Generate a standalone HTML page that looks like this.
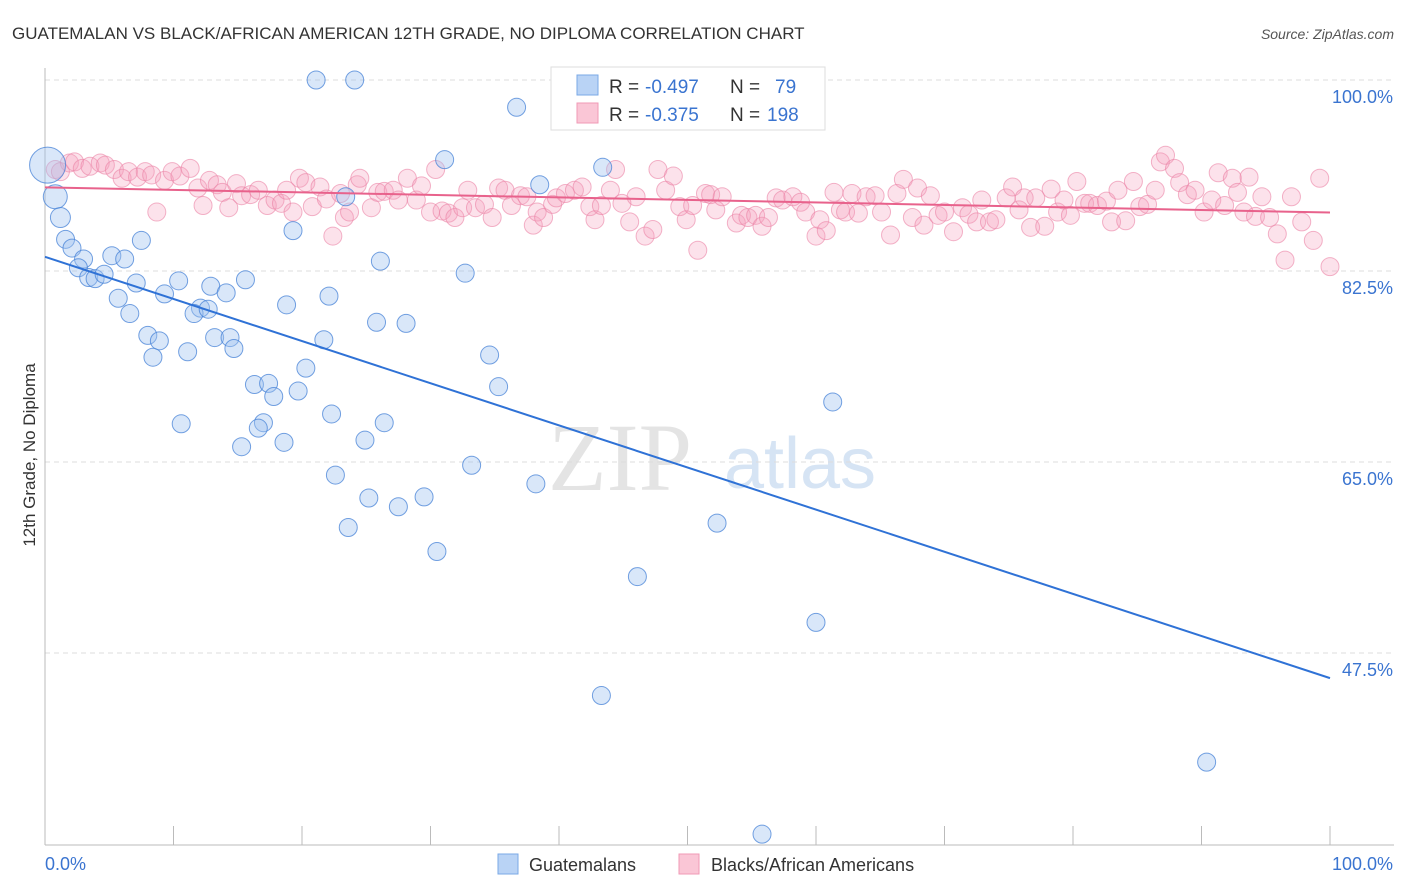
<!DOCTYPE html>
<html><head><meta charset="utf-8"><style>
body{margin:0;background:#fff;font-family:"Liberation Sans",sans-serif;}
svg{display:block}
</style></head><body>
<svg id="chart" width="1406" height="892" xmlns="http://www.w3.org/2000/svg">
<text x="12" y="39" font-size="17" fill="#333">GUATEMALAN VS BLACK/AFRICAN AMERICAN 12TH GRADE, NO DIPLOMA CORRELATION CHART</text>
<text x="1394" y="39" font-size="14" fill="#555" font-style="italic" text-anchor="end">Source: ZipAtlas.com</text>
<text x="620" y="490" font-size="96" fill="#e4e4e4" font-family="Liberation Serif,serif" text-anchor="middle">ZIP</text>
<text x="800" y="488" font-size="72" fill="#d6e4f4" text-anchor="middle">atlas</text>
<text transform="translate(35,455) rotate(-90)" font-size="17" fill="#333" text-anchor="middle">12th Grade, No Diploma</text>
<g id="grid"></g><g id="axes"></g><g id="pts"></g><g id="lines"></g>
<g>
<rect x="551" y="67" width="274" height="63" fill="#fff" stroke="#ddd"/>
<rect x="577" y="75" width="21" height="20" fill="#b9d3f5" stroke="#7aa8e6"/>
<rect x="577" y="103" width="21" height="20" fill="#fac6d6" stroke="#f09ab6"/>
<text x="609" y="93" font-size="19" fill="#333">R =</text>
<text x="645" y="93" font-size="19" fill="#3a74d0">-0.497</text>
<text x="730" y="93" font-size="19" fill="#333">N =</text>
<text x="775" y="93" font-size="19" fill="#3a74d0">79</text>
<text x="609" y="121" font-size="19" fill="#333">R =</text>
<text x="645" y="121" font-size="19" fill="#3a74d0">-0.375</text>
<text x="730" y="121" font-size="19" fill="#333">N =</text>
<text x="767" y="121" font-size="19" fill="#3a74d0">198</text>
</g>
<g>
<rect x="498" y="854" width="20" height="20" fill="#b9d3f5" stroke="#7aa8e6"/>
<text x="529" y="871" font-size="18" fill="#333">Guatemalans</text>
<rect x="679" y="854" width="20" height="20" fill="#fac6d6" stroke="#f09ab6"/>
<text x="711" y="871" font-size="18" fill="#333">Blacks/African Americans</text>
</g>
</svg>
<script>
const yTicks=[100,82.5,65,47.5];
const yTickLabels=["100.0%","82.5%","65.0%","47.5%"];
const xTicks=[0,10,20,30,40,50,60,70,80,90,100];
const blueX=[21.1,24.1,58.5,36.7,31.1,43.4,38.5,23.4,19.3,7.5,1.6,2.1,3.0,5.2,6.2,2.6,3.4,3.9,4.6,7.1,10.4,15.6,26.1,32.7,9.3,12.9,14.1,22.1,5.7,18.8,12.1,11.6,12.7,6.6,25.8,28.1,8.0,8.9,13.2,14.4,21.7,11.1,14.7,8.4,34.6,20.3,16.3,17.4,19.7,17.8,35.3,61.3,22.3,10.6,26.4,17.0,16.6,24.9,18.6,15.3,33.2,22.6,38.2,25.2,29.5,27.5,23.6,52.3,30.5,46.1,60.0,43.3,90.4,55.8,0.2,0.8,1.2];
const blueY=[100,100,99.8,97.5,92.7,92.0,90.4,89.3,86.2,85.3,85.4,84.6,83.6,83.9,83.6,82.8,81.9,81.8,82.2,81.4,81.6,81.7,83.4,82.3,80.4,81.1,80.5,80.2,80.0,79.4,79.1,78.6,79.0,78.6,77.8,77.7,76.6,76.1,76.4,76.4,76.2,75.1,75.4,74.6,74.8,73.6,72.1,72.2,71.5,71.0,71.9,70.5,69.4,68.5,68.6,68.6,68.1,67.0,66.8,66.4,64.7,63.8,63.0,61.7,61.8,60.9,59.0,59.4,56.8,54.5,50.3,43.6,37.5,30.9,92.2,89.3,87.4];
const blueSize=[9,9,9,9,9,9,9,9,9,9,9,9,9,9,9,9,9,9,9,9,9,9,9,9,9,9,9,9,9,9,9,9,9,9,9,9,9,9,9,9,9,9,9,9,9,9,9,9,9,9,9,9,9,9,9,9,9,9,9,9,9,9,9,9,9,9,9,9,9,9,9,9,9,9,18,12,10];
const pinkX=[0.8,1.2,1.9,2.3,2.9,3.5,4.3,4.7,5.4,6.0,6.5,7.2,7.8,8.3,8.7,9.3,9.9,10.5,11.3,11.9,12.3,12.8,13.4,13.8,14.3,14.9,15.3,16.0,16.6,17.3,17.9,18.4,18.8,19.3,19.8,20.3,20.8,21.4,21.9,22.4,23.0,23.3,23.7,24.3,24.5,25.4,25.9,26.4,27.1,27.5,28.2,28.9,29.3,30.0,30.4,30.9,31.4,31.9,32.5,32.9,33.5,34.2,34.8,35.3,35.8,36.3,37.0,37.5,38.0,38.3,38.8,39.5,39.8,40.5,41.2,41.8,42.4,42.8,43.3,44.0,44.4,44.9,45.5,46.0,46.7,47.3,47.7,48.3,48.9,49.4,49.9,50.4,50.8,51.4,51.8,52.2,52.7,53.8,54.2,54.7,55.3,55.8,56.3,56.9,57.4,58.2,58.8,59.2,60.0,60.3,60.8,61.4,61.9,62.3,62.8,63.3,63.9,64.6,65.1,65.8,66.3,66.8,67.5,67.9,68.4,68.9,69.5,70.0,70.7,71.4,71.9,72.5,72.9,73.5,74.0,74.8,75.3,75.8,76.2,76.7,77.1,77.8,78.3,78.8,79.3,79.8,80.3,80.9,81.3,81.9,82.6,83.0,83.5,84.1,84.7,85.2,85.8,86.4,86.8,87.2,87.9,88.3,88.9,89.5,90.2,90.8,91.3,91.8,92.4,92.8,93.3,93.7,94.2,94.7,95.3,95.9,96.5,97.0,97.8,98.7,99.2,100];
const pinkY=[91.8,91.6,92.4,92.5,91.9,92.1,92.4,92.2,91.8,91.0,91.6,91.1,91.6,91.3,87.9,90.8,91.6,91.2,91.9,90.1,88.5,90.8,90.4,89.7,88.3,90.5,89.4,89.5,89.9,88.5,89.0,88.7,89.9,87.9,91.0,90.6,88.4,90.2,89.1,85.7,89.6,87.4,87.9,90.4,91.0,88.3,89.7,89.8,89.9,89.0,91.0,89.0,90.3,87.9,91.8,88.0,87.8,87.4,88.3,89.9,88.3,88.6,87.4,90.1,89.9,88.5,89.4,89.3,86.7,87.9,87.4,88.6,89.2,89.6,89.9,90.2,88.4,87.2,88.5,89.9,91.8,88.7,87.0,89.3,85.7,86.3,91.8,89.9,91.2,88.4,87.2,88.5,84.4,89.6,89.5,88.1,89.3,86.9,87.6,87.4,87.6,86.6,87.4,89.2,89.0,89.3,88.8,87.9,85.7,87.2,86.2,89.7,88.1,87.9,89.6,87.8,89.3,89.4,87.9,85.8,89.6,90.9,87.4,90.1,86.7,89.4,87.6,87.9,86.1,88.3,87.7,87.0,89.0,87.0,87.2,89.2,90.2,88.1,89.2,86.5,89.2,86.6,90.0,87.9,89.0,87.6,90.7,88.7,88.7,88.5,88.9,87.0,89.9,87.1,90.7,88.4,88.6,89.9,92.5,93.1,91.9,90.6,89.5,89.9,87.9,89.0,91.5,88.5,91.0,89.7,87.9,91.1,87.5,89.3,87.4,85.9,83.5,89.3,87.0,85.3,91.0,82.9];
const gridLines=document.getElementById('grid'),axes=document.getElementById('axes'),pts=document.getElementById('pts'),lines=document.getElementById('lines');
const NS='http://www.w3.org/2000/svg';
const X=v=>45+v*12.85, Y=v=>80+(100-v)*10.914;
function mk(t,a,p){const e=document.createElementNS(NS,t);for(const k in a)e.setAttribute(k,a[k]);p.appendChild(e);return e;}
yTicks.forEach((v,i)=>{
 const l=mk('line',{x1:45,x2:1394,y1:Y(v),y2:Y(v),stroke:'#ddd','stroke-dasharray':'5,4'},gridLines);
 
 
 const t=mk('text',{x:1393,y:Y(v)+23,'font-size':18,fill:'#3a74d0','text-anchor':'end'},gridLines);
 t.textContent=yTickLabels[i];
 
 
});
const ax=mk('line',{x1:45,x2:45,y1:68,y2:845,stroke:'#bbb'},axes);


const bx=mk('line',{x1:45,x2:1394,y1:845,y2:845,stroke:'#bbb'},axes);


xTicks.forEach(v=>{const t=mk('line',{x1:X(v),x2:X(v),y1:826,y2:845,stroke:'#bbb'},axes);
 
 });
[[0,'0.0%','start',45],[100,'100.0%','end',1393]].forEach(a=>{const t=mk('text',{x:a[3],y:870,'font-size':18,fill:'#3a74d0','text-anchor':a[2]},axes);t.textContent=a[1];
 
 });
pinkX.forEach((v,i)=>{const c=mk('circle',{cx:X(v),cy:Y(pinkY[i]),r:9,fill:'rgba(245,160,190,0.3)',stroke:'rgba(235,130,165,0.6)','stroke-width':1},pts);
 
 });
blueX.forEach((v,i)=>{const c=mk('circle',{cx:X(v),cy:Y(blueY[i]),r:blueSize[i],fill:'rgba(160,195,240,0.4)',stroke:'rgba(70,130,215,0.75)','stroke-width':1},pts);
 
 });
function fit(xs,ys){const n=xs.length;let mx=0,my=0;xs.forEach((x,i)=>{mx+=x;my+=ys[i];});mx/=n;my/=n;let sxy=0,sxx=0;xs.forEach((x,i)=>{sxy+=(x-mx)*(ys[i]-my);sxx+=(x-mx)**2;});const b=sxy/sxx;return [my-b*mx,b];}
const bf=fit(blueX,blueY), pf=fit(pinkX,pinkY);
const bl=mk('line',{x1:X(0),y1:Y(bf[0]),x2:X(100),y2:Y(bf[0]+bf[1]*100),stroke:'#2f72d6','stroke-width':2},lines);


const pl=mk('line',{x1:X(0),y1:Y(pf[0]),x2:X(100),y2:Y(pf[0]+pf[1]*100),stroke:'#e8628c','stroke-width':2},lines);


</script>
</body></html>
